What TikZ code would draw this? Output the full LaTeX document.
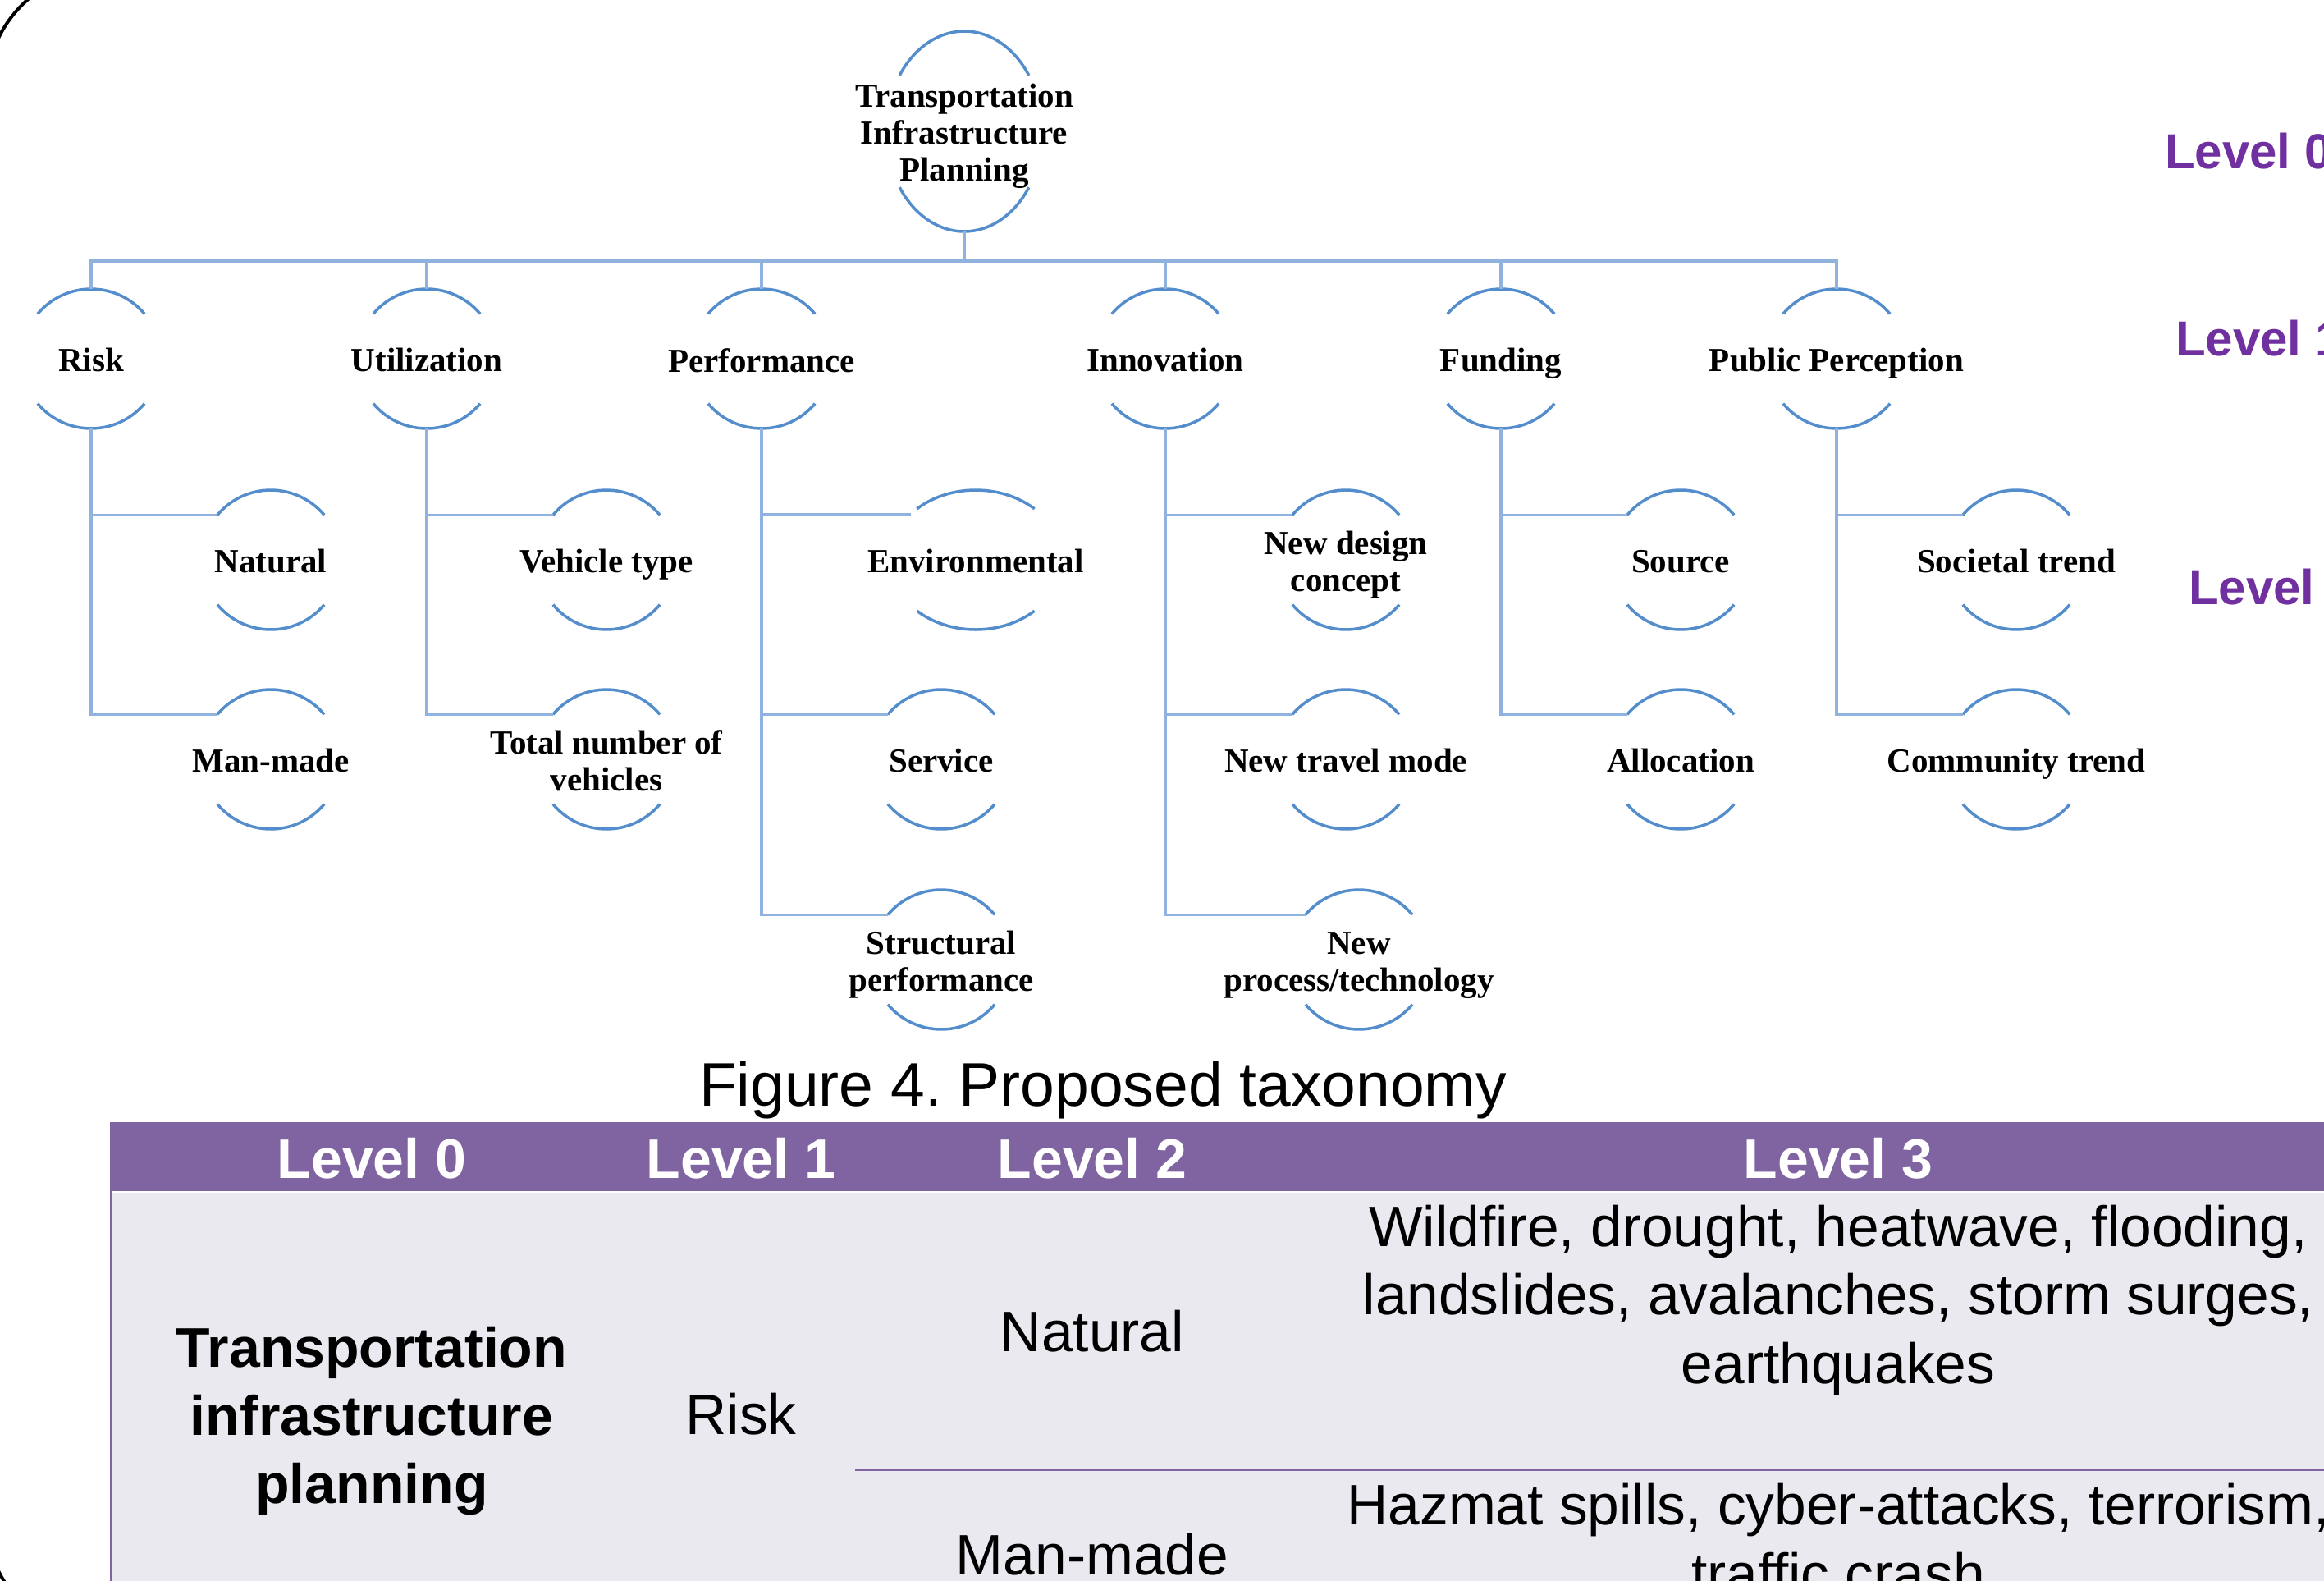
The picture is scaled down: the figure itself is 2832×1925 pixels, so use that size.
\documentclass[tikz,border=0pt]{standalone}
\usepackage{fontspec}
\setmainfont{Liberation Serif}
\newfontfamily\arialfont{Liberation Sans}
\usetikzlibrary{shapes.geometric}
\frenchspacing
\definecolor{arcblue}{RGB}{84,141,204}
\definecolor{lineblue}{RGB}{143,179,222}
\definecolor{lvlpurple}{RGB}{112,48,160}
\definecolor{hdrpurple}{RGB}{128,100,162}
\definecolor{bodygray}{RGB}{235,233,240}
\tikzset{
  arcline/.style={draw=arcblue, line width=3.5pt},
  conn/.style={draw=lineblue, line width=3.5pt},
  ring/.style={circle, minimum size=170pt, inner sep=0pt, outer sep=0pt, draw=none},
  oval/.style={ellipse, inner sep=0pt, outer sep=0pt, draw=none},
  treetext/.style={font=\bfseries\fontsize{41}{45}\selectfont, align=center, inner sep=0pt, yshift=-6pt},
  lvllabel/.style={font=\arialfont\bfseries\fontsize{60}{72}\selectfont, text=lvlpurple, anchor=base west, inner sep=0pt},
  hdrtext/.style={font=\arialfont\bfseries\fontsize{68}{83}\selectfont, text=white, anchor=base, inner sep=0pt},
  celltext/.style={font=\arialfont\fontsize{69.5}{83}\selectfont, anchor=base, inner sep=0pt},
  cellbold/.style={font=\arialfont\bfseries\fontsize{68}{83}\selectfont, anchor=base, inner sep=0pt},
}
\newcommand{\sv}{\vphantom{lp}}
\newcommand{\ringarcs}[4]{%
  \draw[arcline] (#1.center) ++({#2*cos(#4)},{#3*sin(#4)}) arc[start angle=#4, end angle={180-#4}, x radius=#2, y radius=#3];
  \draw[arcline] (#1.center) ++({-#2*cos(#4)},{-#3*sin(#4)}) arc[start angle={180+#4}, end angle={360-#4}, x radius=#2, y radius=#3];
}
\newcommand{\treenode}[4]{%
  \node[ring] (#1) at (#2,#3) {};
  \node[treetext] (#1-t) at (#1.center) {\sv#4\sv};
  \ringarcs{#1}{85}{85}{40}
}
\begin{document}
\begin{tikzpicture}[x=1pt,y=1pt]
\useasboundingbox (0,-1925) rectangle (2832,0);
\clip (0,-1925) rectangle (2832,0);
\fill[white] (0,-1925) rectangle (2832,0);

% root
\node[oval, minimum width=190pt, minimum height=244pt] (root) at (1175,-160) {};
\node[treetext] (root-t) at (root.center) {\sv Transportation\\Infrastructure\\Planning\sv};
\ringarcs{root}{95}{122}{34}

% level 1
\treenode{risk}{111}{-437}{Risk}
\treenode{util}{520}{-437}{Utilization}
\treenode{perf}{928}{-437}{Performance}
\treenode{innov}{1420}{-437}{Innovation}
\treenode{fund}{1829}{-437}{Funding}
\treenode{pp}{2238}{-437}{Public Perception}

% level 2
\treenode{natural}{330}{-682}{Natural}
\treenode{manmade}{330}{-925}{Man-made}
\treenode{vehtype}{739}{-682}{Vehicle type}
\treenode{totveh}{739}{-925}{Total number of\\vehicles}
\node[oval, minimum width=210pt, minimum height=170pt] (env) at (1189,-682) {};
\node[treetext] (env-t) at (env.center) {\sv Environmental\sv};
\ringarcs{env}{105}{85}{47}
\treenode{service}{1147}{-925}{Service}
\treenode{struct}{1147}{-1169}{Structural\\performance}
\treenode{newdesign}{1640}{-682}{New design\\concept}
\treenode{newtravel}{1640}{-925}{New travel mode}
\treenode{newproc}{1656}{-1169}{New\\process/technology}
\treenode{source}{2048}{-682}{Source}
\treenode{alloc}{2048}{-925}{Allocation}
\treenode{societal}{2457}{-682}{Societal trend}
\treenode{community}{2457}{-925}{Community trend}

% connectors
\coordinate (bus) at (1175,-318);
\draw[conn] (root.south) -- (bus);
\draw[conn] (risk.north) |- (bus) -| (pp.north);
\foreach \n in {util,perf,innov,fund} \draw[conn] (\n.north) -- (\n.north |- bus);

\draw[conn] (risk.south) |- (manmade.140);
\draw[conn] (risk.south |- natural.140) -- (natural.140);
\draw[conn] (util.south) |- (totveh.140);
\draw[conn] (util.south |- vehtype.140) -- (vehtype.140);
\draw[conn] (perf.south) |- (struct.140);
\draw[conn] (perf.south |- env.145) -- (env.145);
\draw[conn] (perf.south |- service.140) -- (service.140);
\draw[conn] (innov.south) |- (newproc.140);
\draw[conn] (innov.south |- newdesign.140) -- (newdesign.140);
\draw[conn] (innov.south |- newtravel.140) -- (newtravel.140);
\draw[conn] (fund.south) |- (alloc.140);
\draw[conn] (fund.south |- source.140) -- (source.140);
\draw[conn] (pp.south) |- (community.140);
\draw[conn] (pp.south |- societal.140) -- (societal.140);

% level labels (cut off at the right edge, as in the source)
\node[lvllabel] (lvl0) at (2638,-205) {Level 0};
\node[lvllabel] (lvl1) at (2651,-433) {Level 1};
\node[lvllabel] (lvl2) at (2667,-736) {Level 2};

% caption
\node[font=\arialfont\fontsize{75}{90}\selectfont, anchor=base, inner sep=0pt] (caption) at (1344,-1347) {Figure 4. Proposed taxonomy};

% table
\fill[bodygray] (135,-1452) rectangle (2900,-2000);
\fill[hdrpurple] (135,-1367) rectangle (2900,-1452);
\draw[white, line width=2pt] (135,-1452) -- (2900,-1452);
\draw[hdrpurple, line width=2.5pt] (135,-1367) -- (135,-2000);
\draw[hdrpurple, line width=3pt] (1042,-1790) -- (2900,-1790);

\node[hdrtext] (h0) at (453,-1435) {Level 0};
\node[hdrtext] (h1) at (903,-1435) {Level 1};
\node[hdrtext] (h2) at (1331,-1435) {Level 2};
\node[hdrtext] (h3) at (2240,-1435) {Level 3};

\node[cellbold] (l0a) at (453,-1665) {Transportation};
\node[cellbold] (l0b) at (453,-1748) {infrastructure};
\node[cellbold] (l0c) at (453,-1831) {planning};
\node[celltext] (l1risk) at (903,-1747) {Risk};
\node[celltext] (l2nat) at (1331,-1646) {Natural};
\node[celltext] (l2man) at (1331,-1918) {Man-made};
\node[celltext] (l3a) at (2240,-1518) {Wildfire, drought, heatwave, flooding,};
\node[celltext] (l3b) at (2240,-1601) {landslides, avalanches, storm surges,};
\node[celltext] (l3c) at (2240,-1685) {earthquakes};
\node[celltext] (l3d) at (2240,-1857) {Hazmat spills, cyber-attacks, terrorism,};
\node[celltext] (l3e) at (2240,-1941) {traffic crash};

% outer frame corners
\draw[black, line width=4pt, rounded corners=150pt] (-17,38) rectangle (3300,-1998);
\end{tikzpicture}
\end{document}
